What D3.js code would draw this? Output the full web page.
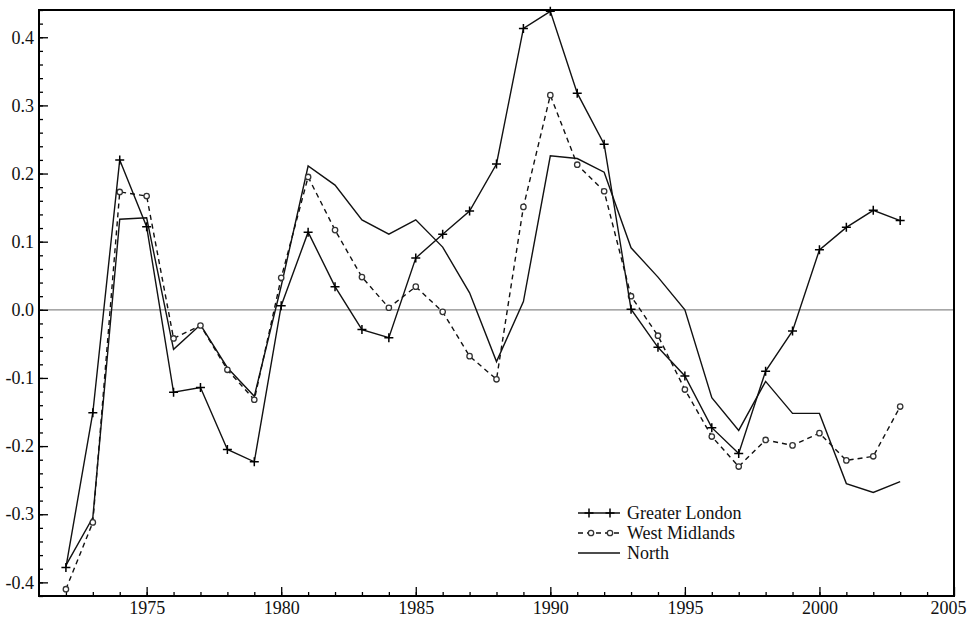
<!DOCTYPE html>
<html>
<head>
<meta charset="utf-8">
<script src="https://cdn.jsdelivr.net/npm/d3@7"></script>
<style>
  html, body { margin: 0; padding: 0; background: #fff; }
  svg { display: block; font-family: "Liberation Serif", "DejaVu Serif", serif; }
</style>
</head>
<body>
<svg id="chart" width="970" height="619"></svg>
<script>
// years 1972..2003
const years = d3.range(1972, 2004);

const greaterLondon = [-0.378, -0.151, 0.22, 0.122, -0.121, -0.114, -0.205, -0.223, 0.006, 0.114,
  0.034, -0.029, -0.041, 0.076, 0.111, 0.145, 0.214, 0.413, 0.438, 0.318,
  0.243, 0.001, -0.055, -0.097, -0.173, -0.211, -0.09, -0.031, 0.088, 0.121,
  0.146, 0.131];

const westMidlands = [-0.41, -0.312, 0.173, 0.167, -0.042, -0.023, -0.088, -0.132, 0.047, 0.195,
  0.117, 0.048, 0.003, 0.034, -0.003, -0.068, -0.102, 0.151, 0.315, 0.213,
  0.174, 0.02, -0.038, -0.117, -0.186, -0.23, -0.191, -0.199, -0.181, -0.221,
  -0.215, -0.142];

const north = [-0.375, -0.305, 0.133, 0.135, -0.058, -0.022, -0.085, -0.127, 0.035, 0.211,
  0.183, 0.132, 0.111, 0.132, 0.092, 0.025, -0.076, 0.012, 0.226, 0.222,
  0.202, 0.091, 0.048, 0.0, -0.129, -0.177, -0.105, -0.152, -0.152, -0.255,
  -0.268, -0.252];

const xMajor = [1975, 1980, 1985, 1990, 1995, 2000, 2005];
const yMajor = [-0.4, -0.3, -0.2, -0.1, 0.0, 0.1, 0.2, 0.3, 0.4];

const seriesNames = ["Greater London", "West Midlands", "North"];

const svg = d3.select("#chart");
// 플롯 영역 경계
const plot = { left: 39, right: 954, top: 10, bottom: 596 };

const x = d3.scaleLinear().domain([1971, 2005]).range([plot.left, plot.right]);
const y = d3.scaleLinear().domain([-0.42, 0.44]).range([plot.bottom, plot.top]);

// zero line
svg.append("line")
  .attr("x1", plot.left).attr("x2", plot.right)
  .attr("y1", y(0)).attr("y2", y(0))
  .attr("stroke", "#8a8a8a").attr("stroke-width", 1.2);

// minor ticks (inward)
svg.append("g")
  .attr("transform", `translate(0,${plot.bottom})`)
  .call(d3.axisBottom(x).tickValues(d3.range(1972, 2005)).tickSize(-4).tickFormat(""))
  .call(g => g.select(".domain").remove())
  .selectAll("line").attr("stroke", "#000").attr("stroke-width", 1.3);

svg.append("g")
  .attr("transform", `translate(${plot.left},0)`)
  .call(d3.axisLeft(y).tickValues(d3.range(-42, 45, 2).map(v => v / 100)).tickSize(-4).tickFormat(""))
  .call(g => g.select(".domain").remove())
  .selectAll("line").attr("stroke", "#000").attr("stroke-width", 1.3);

// major ticks + labels
const xAxis = svg.append("g")
  .attr("transform", `translate(0,${plot.bottom})`)
  .call(d3.axisBottom(x).tickValues(xMajor).tickSize(-9).tickPadding(5).tickFormat(d3.format("d")));
xAxis.select(".domain").remove();
xAxis.selectAll("line").attr("stroke", "#000").attr("stroke-width", 1.3);
xAxis.selectAll("text").attr("font-size", 18).attr("fill", "#111")
  .attr("font-family", "Liberation Serif, serif").attr("dy", "0.71em");
// 마지막 라벨(2005)은 오른쪽 끝에 걸리지 않게 당김
xAxis.selectAll("text").filter(d => d === 2005)
  .attr("text-anchor", "end").attr("dx", 12);

const yAxis = svg.append("g")
  .attr("transform", `translate(${plot.left},0)`)
  .call(d3.axisLeft(y).tickValues(yMajor).tickSize(-9).tickPadding(5).tickFormat(d => d.toFixed(1)));
yAxis.select(".domain").remove();
yAxis.selectAll("line").attr("stroke", "#000").attr("stroke-width", 1.3);
yAxis.selectAll("text").attr("font-size", 18).attr("fill", "#111")
  .attr("font-family", "Liberation Serif, serif");

// frame
svg.append("rect")
  .attr("x", plot.left).attr("y", plot.top)
  .attr("width", plot.right - plot.left).attr("height", plot.bottom - plot.top)
  .attr("fill", "none").attr("stroke", "#000").attr("stroke-width", 2);

const line = d3.line().x((d, i) => x(years[i])).y(d => y(d));

// North
svg.append("path").datum(north)
  .attr("d", line).attr("fill", "none")
  .attr("stroke", "#111").attr("stroke-width", 1.4);

// West Midlands (dashed, circles)
svg.append("path").datum(westMidlands)
  .attr("d", line).attr("fill", "none")
  .attr("stroke", "#111").attr("stroke-width", 1.4)
  .attr("stroke-dasharray", "5,4");

svg.append("g").selectAll("circle")
  .data(westMidlands).join("circle")
  .attr("cx", (d, i) => x(years[i])).attr("cy", d => y(d))
  .attr("r", 2.7).attr("fill", "#fff")
  .attr("stroke", "#333").attr("stroke-width", 1.3);

// Greater London (solid, plus markers)
svg.append("path").datum(greaterLondon)
  .attr("d", line).attr("fill", "none")
  .attr("stroke", "#111").attr("stroke-width", 1.4);

const plus = (cx, cy, s) => `M${cx - s},${cy}H${cx + s}M${cx},${cy - s}V${cy + s}`;

svg.append("g").selectAll("path")
  .data(greaterLondon).join("path")
  .attr("d", (d, i) => plus(x(years[i]), y(d), 4.5))
  .attr("stroke", "#000").attr("stroke-width", 1.5);

// legend
const lg = svg.append("g").attr("transform", "translate(578,513)");
const rows = lg.selectAll("g").data(seriesNames).join("g")
  .attr("transform", (d, i) => `translate(0,${i * 20})`);

rows.append("line")
  .attr("x1", 0).attr("x2", 42).attr("y1", 0).attr("y2", 0)
  .attr("stroke", "#111").attr("stroke-width", 1.4)
  .attr("stroke-dasharray", (d, i) => i === 1 ? "5,4" : null);

rows.filter((d, i) => i === 0).selectAll("path.m")
  .data([11, 32]).join("path").attr("class", "m")
  .attr("d", d => plus(d, 0, 4.5))
  .attr("stroke", "#000").attr("stroke-width", 1.5);

rows.filter((d, i) => i === 1).selectAll("circle")
  .data([13, 32]).join("circle")
  .attr("cx", d => d).attr("cy", 0).attr("r", 2.7)
  .attr("fill", "#fff").attr("stroke", "#333").attr("stroke-width", 1.3);

rows.append("text")
  .attr("x", 49).attr("dy", "0.33em")
  .attr("font-size", 18).attr("fill", "#111")
  .text(d => d);
</script>
</body>
</html>
